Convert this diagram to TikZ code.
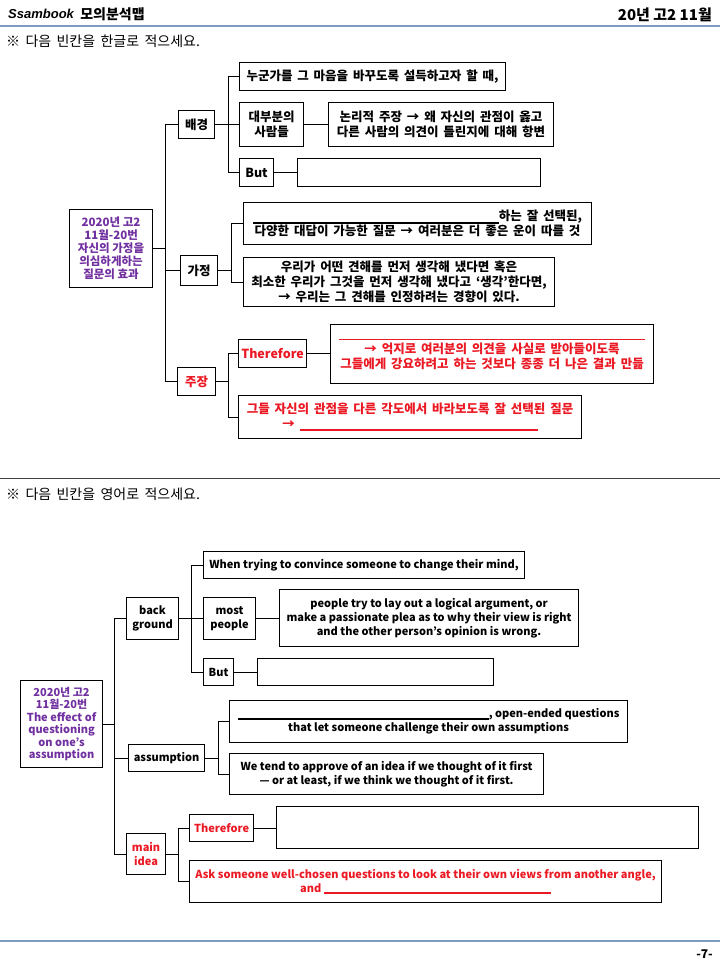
\documentclass[tikz,border=0pt]{standalone}
\usepackage{fontspec}
\setmainfont{Noto Sans CJK KR}
\newfontfamily\kr{Noto Sans CJK KR}[WordSpace=1.7]
\newfontfamily\logofont{Liberation Sans}
\usepackage{xcolor}
\definecolor{mapred}{RGB}{235,25,35}
\definecolor{mappurple}{RGB}{112,48,160}
\definecolor{headline}{RGB}{125,155,195}

\begin{document}
\begin{tikzpicture}[x=1pt,y=1pt,yscale=-1,xscale=1,
  box/.style={draw,line width=1.1pt,anchor=north west,inner sep=1pt,align=center,font=\kr\fontsize{12.5}{15}\selectfont\bfseries},
  ebox/.style={box,font=\fontsize{11}{14}\selectfont\bfseries},
  hot/.style={text=mapred},
  link/.style={line width=1.1pt}]

\useasboundingbox (0,0) rectangle (720,960);

\node (logo) at (8,14) [anchor=west,inner sep=0] {\logofont\fontsize{13}{13}\selectfont\bfseries\itshape Ssambook};
\node (maptitle) at (logo.east) [anchor=west,inner sep=0,xshift=6] {\fontsize{14}{14}\selectfont\bfseries 모의분석맵};
\node (exam) at (712,15) [anchor=east,inner sep=0] {\fontsize{15}{15}\selectfont\bfseries 20년 고2 11월};
\draw [headline,line width=1.5pt] (0,26) -- (720,26);
\node (ask1) at (6,41) [anchor=west,inner sep=0] {\kr\fontsize{14}{14}\selectfont ※ 다음 빈칸을 한글로 적으세요.};

\node (r1) at (69,209) [box,text=mappurple,minimum width=83,minimum height=78,font=\fontsize{11.5}{13}\selectfont\bfseries] {2020년 고2\\11월-20번\\자신의 가정을\\의심하게하는\\질문의 효과};
\node (a1) at (178,110) [box,minimum width=36,minimum height=28] {배경};
\node (a11) at (239,62) [box,minimum width=266,minimum height=28] {누군가를 그 마음을 바꾸도록 설득하고자 할 때,};
\node (a12) at (239,102) [box,minimum width=64,minimum height=44] {대부분의\\사람들};
\node (a13) at (328,102) [box,minimum width=225,minimum height=44] {논리적 주장 → 왜 자신의 관점이 옳고\\다른 사람의 의견이 틀린지에 대해 항변};
\node (a14) at (239,158) [box,minimum width=34,minimum height=28] {But};
\node (a15) at (297,158) [box,minimum width=243,minimum height=28] {};
\node (b1) at (180,255) [box,minimum width=37,minimum height=30] {가정};
\node (b11) at (243,202) [box,minimum width=348,minimum height=42] {\rule[-3pt]{246pt}{1.6pt}하는 잘 선택된,\\다양한 대답이 가능한 질문 → 여러분은 더 좋은 운이 따를 것};
\node (b12) at (243,257) [box,minimum width=311,minimum height=49] {우리가 어떤 견해를 먼저 생각해 냈다면 혹은\\최소한 우리가 그것을 먼저 생각해 냈다고 ‘생각’한다면,\\→ 우리는 그 견해를 인정하려는 경향이 있다.};
\node (c1) at (177,367) [box,hot,minimum width=38,minimum height=28] {주장};
\node (c11) at (238,339) [box,hot,minimum width=68,minimum height=28] {Therefore};
\node (c12) at (330,324) [box,hot,minimum width=323,minimum height=59] {\rule{306pt}{1.8pt}\\[-2pt]→ 억지로 여러분의 의견을 사실로 받아들이도록\\그들에게 강요하려고 하는 것보다 종종 더 나은 결과 만듦};
\node (c13) at (238,395) [box,hot,minimum width=343,minimum height=43] {그들 자신의 관점을 다른 각도에서 바라보도록 잘 선택된 질문\\→ \rule[-2pt]{238pt}{1.8pt}};

\draw [link] (r1.east) -- +(12,0) |- (a1.west);
\draw [link] (r1.east) -- +(12,0) |- (b1.west);
\draw [link] (r1.east) -- +(12,0) |- (c1.west);
\draw [link] (a1.east) -- +(13,0) |- (a11.west);
\draw [link] (a1.east) -- (a12.west);
\draw [link] (a1.east) -- +(13,0) |- (a14.west);
\draw [link] (a12.east) -- (a12.east -| a13.west);
\draw [link] (a14.east) -- (a14.east -| a15.west);
\draw [link] (b1.east) -- +(13,0) |- (b11.west);
\draw [link] (b1.east) -- +(13,0) |- (b12.west);
\draw [link] (c1.east) -- +(12,0) |- (c11.west);
\draw [link] (c1.east) -- +(12,0) |- (c13.west);
\draw [link] (c11.east) -- (c11.east -| c12.west);

\draw [black!75,line width=1pt] (0,478) -- (720,478);
\node (ask2) at (6,494) [anchor=west,inner sep=0] {\kr\fontsize{14}{14}\selectfont ※ 다음 빈칸을 영어로 적으세요.};

\node (r2) at (20,680) [box,text=mappurple,minimum width=82,minimum height=87,font=\fontsize{11}{12.5}\selectfont\bfseries] {2020년 고2\\11월-20번\\The effect of\\questioning\\on one's\\assumption};
\node (d1) at (126,597) [ebox,minimum width=52,minimum height=42] {back\\ground};
\node (d11) at (203,551) [ebox,minimum width=321,minimum height=27] {When trying to convince someone to change their mind,};
\node (d12) at (203,597) [ebox,minimum width=52,minimum height=42] {most\\people};
\node (d13) at (279,589) [ebox,minimum width=299,minimum height=57] {people try to lay out a logical argument, or\\make a passionate plea as to why their view is right\\and the other person’s opinion is wrong.};
\node (d14) at (203,658) [ebox,minimum width=30,minimum height=27] {But};
\node (d15) at (257,658) [ebox,minimum width=236,minimum height=27] {};
\node (e1) at (128,744) [ebox,minimum width=76,minimum height=27] {assumption};
\node (e11) at (229,700) [ebox,minimum width=398,minimum height=42] {\rule[-2pt]{251pt}{1.6pt}, open-ended questions\\that let someone challenge their own assumptions};
\node (e12) at (229,753) [ebox,minimum width=314,minimum height=41] {We tend to approve of an idea if we thought of it first\\— or at least, if we think we thought of it first.};
\node (f1) at (126,833) [ebox,hot,minimum width=39,minimum height=41] {main\\idea};
\node (f11) at (189,814) [ebox,hot,minimum width=64,minimum height=27] {Therefore};
\node (f12) at (276,806) [ebox,minimum width=422,minimum height=42] {};
\node (f13) at (189,860) [ebox,hot,minimum width=472,minimum height=42] {Ask someone well-chosen questions to look at their own views from another angle,\\and \rule[-2pt]{227pt}{1.8pt}};

\draw [link] (r2.east) -- +(11,0) |- (d1.west);
\draw [link] (r2.east) -- +(11,0) |- (e1.west);
\draw [link] (r2.east) -- +(11,0) |- (f1.west);
\draw [link] (d1.east) -- +(12,0) |- (d11.west);
\draw [link] (d1.east) -- (d12.west);
\draw [link] (d1.east) -- +(12,0) |- (d14.west);
\draw [link] (d12.east) -- (d12.east -| d13.west);
\draw [link] (d14.east) -- (d14.east -| d15.west);
\draw [link] (e1.east) -- +(13,0) |- (e11.west);
\draw [link] (e1.east) -- +(13,0) |- (e12.west);
\draw [link] (f1.east) -- +(12,0) |- (f11.west);
\draw [link] (f1.east) -- +(12,0) |- (f13.west);
\draw [link] (f11.east) -- (f11.east -| f12.west);

\draw [headline,line width=1.5pt] (0,941) -- (720,941);
\node (page) at (713,954) [anchor=east,inner sep=0] {\fontsize{12}{12}\selectfont\bfseries -7-};

\end{tikzpicture}
\end{document}
